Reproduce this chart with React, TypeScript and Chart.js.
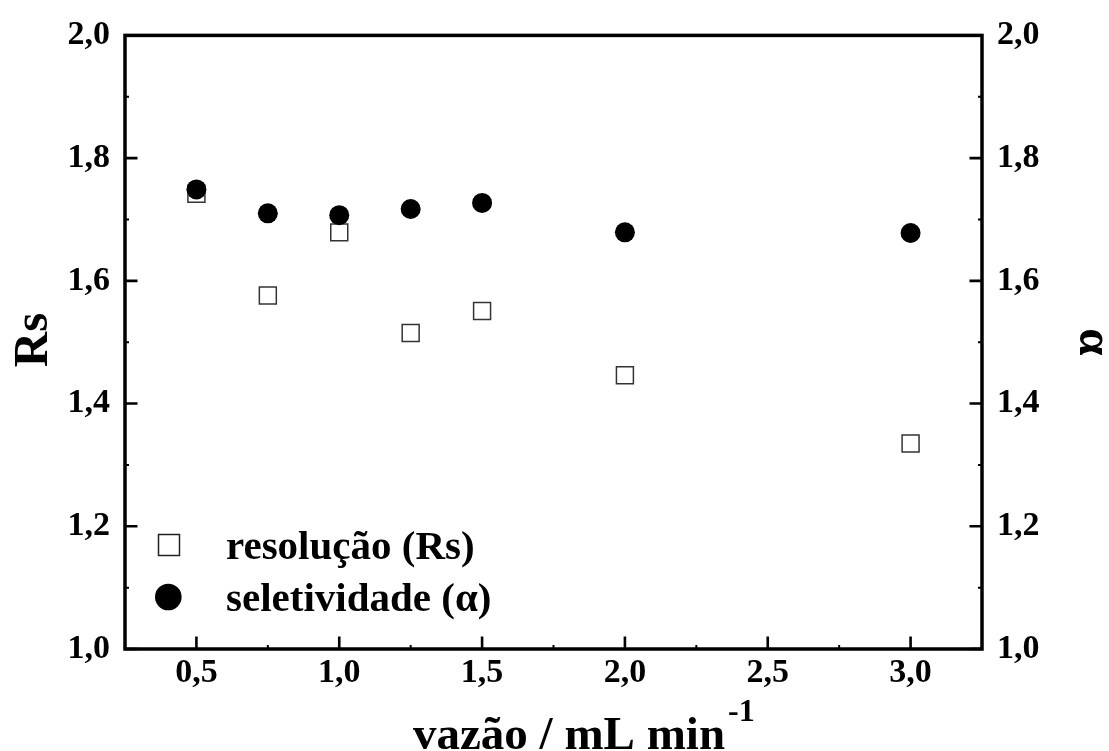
import React, { useEffect, useRef } from "react";
import { Chart, registerables } from "chart.js";

Chart.register(...registerables);

const flowRates = [0.5, 0.75, 1.0, 1.25, 1.5, 2.0, 3.0];
const resolution = [1.742, 1.576, 1.679, 1.515, 1.551, 1.446, 1.335];
const selectivity = [1.749, 1.71, 1.707, 1.717, 1.727, 1.679, 1.678];

const xMajorTicks = [0.5, 1.0, 1.5, 2.0, 2.5, 3.0];
const xMinorTicks = [0.75, 1.25, 1.75, 2.25, 2.75];
const yMajorTicks = [1.0, 1.2, 1.4, 1.6, 1.8, 2.0];
const yMinorTicks = [1.1, 1.3, 1.5, 1.7, 1.9];

const legendLabels = ["resolução (Rs)", "seletividade (α)"];
const xTitle = "vazão / mL min";
const xTitleSup = "-1";
const yTitle = "Rs";
const y2Title = "α";

const FONT = "'Liberation Serif', 'Times New Roman', serif";

const fmt = (v: number) => v.toFixed(1).replace(".", ",");

const framePlugin = {
  id: "framePlugin",
  afterDraw(chart: any) {
    const ctx = chart.ctx;
    const { left, right, top, bottom } = chart.chartArea;
    const xs = chart.scales.x;
    const ys = chart.scales.y;
    const ys2 = chart.scales.y2;
    ctx.save();
    ctx.strokeStyle = "#000";
    ctx.lineWidth = 3.5;
    ctx.strokeRect(left, top, right - left, bottom - top);

    // major ticks
    ctx.lineWidth = 2.6;
    ctx.beginPath();
    xMajorTicks.forEach((v) => {
      const px = xs.getPixelForValue(v);
      ctx.moveTo(px, bottom);
      ctx.lineTo(px, bottom - 12.5);
    });
    yMajorTicks.forEach((v) => {
      const py = ys.getPixelForValue(v);
      ctx.moveTo(left, py);
      ctx.lineTo(left + 12.5, py);
      const py2 = ys2.getPixelForValue(v);
      ctx.moveTo(right, py2);
      ctx.lineTo(right - 12.5, py2);
    });
    ctx.stroke();
    // minor ticks
    ctx.lineWidth = 2;
    ctx.beginPath();
    xMinorTicks.forEach((v) => {
      const px = xs.getPixelForValue(v);
      ctx.moveTo(px, bottom);
      ctx.lineTo(px, bottom - 4);
    });
    yMinorTicks.forEach((v) => {
      const py = ys.getPixelForValue(v);
      ctx.moveTo(left, py);
      ctx.lineTo(left + 4, py);
      const py2 = ys2.getPixelForValue(v);
      ctx.moveTo(right, py2);
      ctx.lineTo(right - 4, py2);
    });
    ctx.stroke();

    ctx.fillStyle = "#000";
    // x title
    ctx.font = `bold 47px ${FONT}`;
    ctx.textAlign = "left";
    ctx.textBaseline = "alphabetic";
    ctx.fillText(xTitle, 413, 749);
    const tw = ctx.measureText(xTitle).width;
    ctx.font = `bold 32px ${FONT}`;
    ctx.fillText(xTitleSup, 413 + tw + 3, 721);

    // left title
    ctx.font = `bold 49px ${FONT}`;
    ctx.save();
    ctx.translate(47, 340);
    ctx.rotate(-Math.PI / 2);
    ctx.textAlign = "center";
    ctx.fillText(yTitle, 0, 0);
    ctx.restore();

    // right title
    ctx.save();
    ctx.translate(1080, 342);
    ctx.rotate(Math.PI / 2);
    ctx.textAlign = "center";
    ctx.fillText(y2Title, 0, 0);
    ctx.restore();

    // legend
    ctx.lineWidth = 1.5;
    ctx.strokeStyle = "#222";
    ctx.strokeRect(169 - 10.5, 545 - 10.5, 21, 21);
    ctx.beginPath();
    ctx.arc(168.3, 597, 13.3, 0, Math.PI * 2);
    ctx.fill();
    ctx.font = `bold 41px ${FONT}`;
    ctx.textAlign = "left";
    ctx.textBaseline = "alphabetic";
    ctx.fillText(legendLabels[0], 226, 559);
    ctx.fillText(legendLabels[1], 226, 611);
    ctx.restore();
  },
};

export default function App() {
  const ref = useRef<HTMLCanvasElement | null>(null);
  useEffect(() => {
    if (!ref.current) return;
    const tickFont = { family: FONT, size: 34, weight: "bold" as const };
    const chart = new Chart(ref.current, {
      type: "scatter",
      data: {
        datasets: [
          {
            label: legendLabels[1],
            data: flowRates.map((x, i) => ({ x, y: selectivity[i] })),
            yAxisID: "y2",
            pointStyle: "circle",
            pointRadius: 10,
            pointHoverRadius: 10,
            backgroundColor: "#000",
            borderColor: "#000",
            borderWidth: 0,
            showLine: false,
          },
          {
            label: legendLabels[0],
            data: flowRates.map((x, i) => ({ x, y: resolution[i] })),
            yAxisID: "y",
            pointStyle: "rect",
            pointRadius: 12,
            pointHoverRadius: 12,
            backgroundColor: "rgba(255,255,255,0)",
            borderColor: "#333",
            borderWidth: 1.5,
            showLine: false,
          },
        ],
      },
      options: {
        responsive: false,
        animation: false,
        layout: { padding: { top: 32, left: 0, right: 0, bottom: 0 } },
        plugins: { legend: { display: false }, tooltip: { enabled: false } },
        scales: {
          x: {
            type: "linear",
            position: "bottom",
            min: 0.25,
            max: 3.25,
            grid: { display: false, drawTicks: false },
            border: { display: false },
            afterBuildTicks: (s: any) => {
              s.ticks = xMajorTicks.map((value) => ({ value }));
            },
            afterFit: (s: any) => {
              s.height = 102;
            },
            ticks: {
              font: tickFont,
              color: "#000",
              padding: 4,
              maxRotation: 0,
              autoSkip: false,
              callback: (v: any) => fmt(Number(v)),
            },
          },
          y: {
            type: "linear",
            position: "left",
            min: 1,
            max: 2,
            grid: { display: false, drawTicks: false },
            border: { display: false },
            afterBuildTicks: (s: any) => {
              s.ticks = yMajorTicks.map((value) => ({ value }));
            },
            afterFit: (s: any) => {
              s.width = 125;
            },
            ticks: {
              font: tickFont,
              color: "#000",
              padding: 15,
              autoSkip: false,
              callback: (v: any) => fmt(Number(v)),
            },
          },
          y2: {
            type: "linear",
            position: "right",
            min: 1,
            max: 2,
            grid: { display: false, drawTicks: false },
            border: { display: false },
            afterBuildTicks: (s: any) => {
              s.ticks = yMajorTicks.map((value) => ({ value }));
            },
            afterFit: (s: any) => {
              s.width = 127;
            },
            ticks: {
              font: tickFont,
              color: "#000",
              padding: 15,
              autoSkip: false,
              callback: (v: any) => fmt(Number(v)),
            },
          },
        },
      },
      plugins: [framePlugin],
    });
    return () => chart.destroy();
  }, []);
  return (
    <div style={{ position: "absolute", left: 0, top: 0, width: 1109, height: 751, background: "#fff" }}>
      <canvas ref={ref} width={1109} height={751} style={{ width: 1109, height: 751 }} />
    </div>
  );
}
